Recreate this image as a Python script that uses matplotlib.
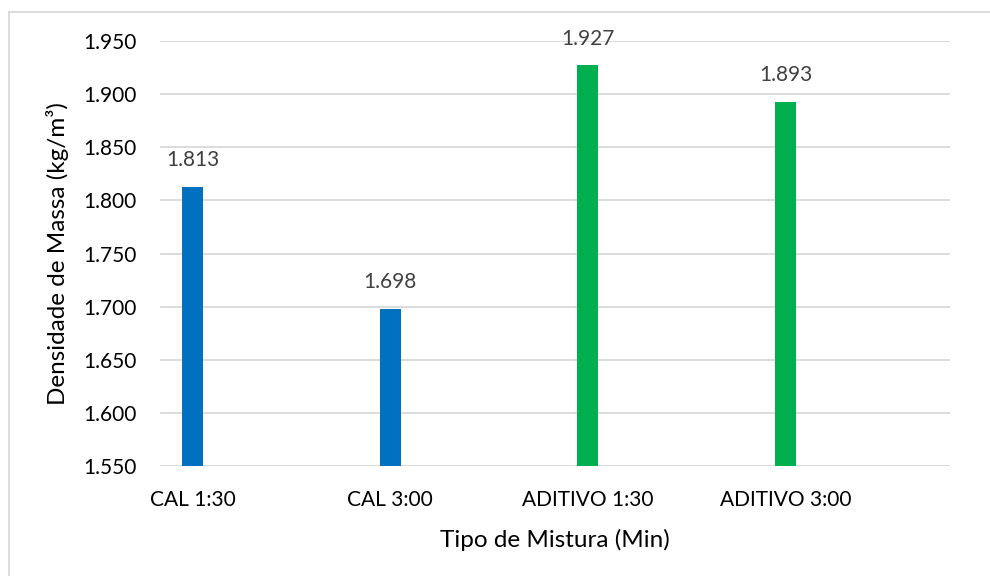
import matplotlib
matplotlib.use("Agg")
import matplotlib.pyplot as plt
from matplotlib.lines import Line2D

plt.rcParams['font.family'] = ['Lato', 'DejaVu Sans']

categories = ["CAL 1:30", "CAL 3:00", "ADITIVO 1:30", "ADITIVO 3:00"]
densidade = [1.813, 1.698, 1.927, 1.893]
cores = ["#0070C0", "#0070C0", "#00B050", "#00B050"]
rotulos = ["1.813", "1.698", "1.927", "1.893"]
y_ticks = [1.550, 1.600, 1.650, 1.700, 1.750, 1.800, 1.850, 1.900, 1.950]
y_tick_labels = ["1.550", "1.600", "1.650", "1.700", "1.750", "1.800", "1.850", "1.900", "1.950"]

W, H = 990, 576
fig = plt.figure(figsize=(W / 100, H / 100), dpi=100)
ax = fig.add_axes([160 / W, 1 - 466 / H, 790 / W, 425 / H])

x = list(range(len(categories)))
ax.bar(x, [v - 1.55 for v in densidade], bottom=1.55, width=0.106, color=cores, zorder=3)

ax.set_ylim(1.55, 1.95)
ax.set_xlim(-0.165, 3.833)
ax.set_yticks(y_ticks)
ax.set_yticklabels(y_tick_labels)
ax.set_xticks(x)
ax.set_xticklabels(categories)
ax.tick_params(axis='both', length=0, labelsize=15, colors="#000000")
ax.tick_params(axis='y', pad=17)
ax.tick_params(axis='x', pad=17)
ax.grid(axis='y', color="#D9D9D9", linewidth=1.3, zorder=0)
for s in ax.spines.values():
    s.set_visible(False)

for xi, v, lab in zip(x, densidade, rotulos):
    ax.annotate(lab, (xi, v), xytext=(0, 12), textcoords="offset points",
                ha="center", va="bottom", fontsize=15, color="#404040")

ax.set_ylabel("Densidade de Massa (kg/m³)", fontsize=17.5, labelpad=10)
ax.set_xlabel("Tipo de Mistura (Min)", fontsize=17.5, labelpad=14)

# chart frame
fig.add_artist(Line2D([8.5 / W, 1], [1 - 11.5 / H] * 2, color="#D9D9D9", lw=1.3))
fig.add_artist(Line2D([8.5 / W] * 2, [0, 1 - 11.5 / H], color="#D9D9D9", lw=1.3))

fig.savefig("out.png", dpi=100, facecolor="white")
